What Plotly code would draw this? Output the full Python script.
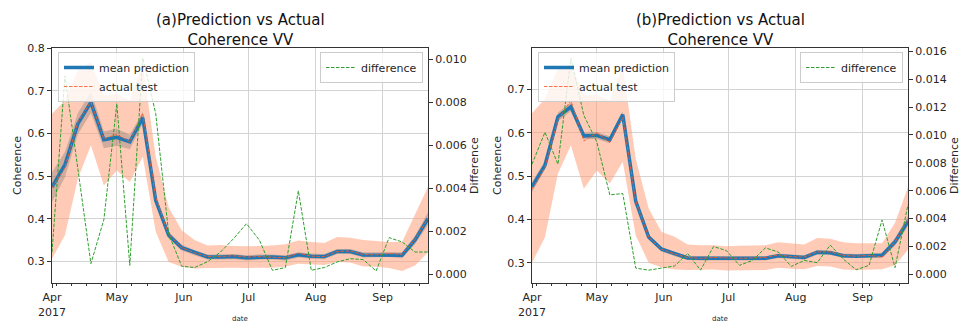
import pandas as pd
import plotly.graph_objects as go

W, H = 965, 323

dates = pd.date_range("2017-04-01", periods=30, freq="6D")

# ---- panel (a) ----
mean_a = [0.474, 0.527, 0.623, 0.673, 0.585, 0.591, 0.580, 0.637, 0.443, 0.361,
          0.332, 0.320, 0.310, 0.310, 0.311, 0.308, 0.310, 0.310, 0.308, 0.315,
          0.312, 0.311, 0.323, 0.323, 0.315, 0.315, 0.316, 0.314, 0.350, 0.400]
actual_a = [0.473, 0.520, 0.627, 0.674, 0.587, 0.598, 0.580, 0.647, 0.450, 0.363,
            0.332, 0.320, 0.311, 0.311, 0.313, 0.310, 0.311, 0.310, 0.308, 0.319,
            0.312, 0.311, 0.323, 0.324, 0.316, 0.315, 0.318, 0.316, 0.351, 0.401]
std_a = [0.035, 0.030, 0.025, 0.025, 0.020, 0.020, 0.017, 0.014, 0.010, 0.008,
         0.007, 0.006, 0.006, 0.006, 0.006, 0.006, 0.006, 0.006, 0.006, 0.006,
         0.006, 0.006, 0.006, 0.006, 0.006, 0.006, 0.006, 0.007, 0.010, 0.015]
upper_a = [0.646, 0.677, 0.748, 0.767, 0.689, 0.693, 0.677, 0.763, 0.545, 0.427,
           0.373, 0.350, 0.337, 0.338, 0.336, 0.335, 0.336, 0.337, 0.340, 0.349,
           0.345, 0.343, 0.357, 0.355, 0.350, 0.347, 0.345, 0.345, 0.410, 0.475]
lower_a = [0.306, 0.361, 0.494, 0.572, 0.478, 0.513, 0.486, 0.545, 0.369, 0.298,
           0.287, 0.283, 0.284, 0.285, 0.285, 0.284, 0.285, 0.285, 0.288, 0.294,
           0.292, 0.291, 0.298, 0.297, 0.288, 0.287, 0.284, 0.277, 0.290, 0.321]
diff_a = [0.00105, 0.00924, 0.00490, 0.00051, 0.00256, 0.00795, 0.00043, 0.01008,
          0.00749, 0.00190, 0.00039, 0.00033, 0.00060, 0.00105, 0.00167, 0.00237,
          0.00160, 0.00020, 0.00033, 0.00390, 0.00020, 0.00033, 0.00059, 0.00074,
          0.00070, 0.00017, 0.00172, 0.00152, 0.00105, 0.00105]

# ---- panel (b) ----
mean_b = [0.475, 0.525, 0.637, 0.660, 0.593, 0.594, 0.584, 0.642, 0.442, 0.359,
          0.331, 0.320, 0.311, 0.310, 0.310, 0.309, 0.310, 0.310, 0.310, 0.316,
          0.314, 0.312, 0.324, 0.323, 0.316, 0.315, 0.316, 0.317, 0.348, 0.396]
actual_b = [0.470, 0.520, 0.630, 0.675, 0.581, 0.600, 0.578, 0.636, 0.442, 0.359,
            0.331, 0.320, 0.312, 0.310, 0.312, 0.311, 0.310, 0.311, 0.312, 0.318,
            0.314, 0.313, 0.325, 0.325, 0.317, 0.315, 0.317, 0.313, 0.348, 0.401]
std_b = [0.012, 0.010, 0.010, 0.010, 0.008, 0.008, 0.008, 0.008, 0.007, 0.006,
         0.005, 0.005, 0.005, 0.005, 0.005, 0.005, 0.005, 0.005, 0.005, 0.005,
         0.005, 0.005, 0.005, 0.005, 0.005, 0.005, 0.005, 0.006, 0.009, 0.012]
upper_b = [0.645, 0.679, 0.749, 0.758, 0.687, 0.688, 0.675, 0.755, 0.540, 0.425,
           0.371, 0.360, 0.342, 0.340, 0.340, 0.338, 0.339, 0.339, 0.340, 0.347,
           0.344, 0.342, 0.357, 0.355, 0.347, 0.345, 0.345, 0.345, 0.392, 0.475]
lower_b = [0.300, 0.359, 0.506, 0.571, 0.471, 0.513, 0.483, 0.533, 0.363, 0.300,
           0.289, 0.284, 0.283, 0.283, 0.284, 0.282, 0.283, 0.283, 0.283, 0.288,
           0.286, 0.285, 0.292, 0.291, 0.284, 0.283, 0.284, 0.285, 0.294, 0.330]
diff_b = [0.0079, 0.0102, 0.0079, 0.0155, 0.0114, 0.0095, 0.0057, 0.0058, 0.00045,
          0.0003, 0.00045, 0.0006, 0.0015, 0.0003, 0.0020, 0.0017, 0.00065, 0.0010,
          0.0019, 0.0016, 0.00057, 0.0010, 0.00084, 0.0021, 0.0011, 0.00033, 0.00065,
          0.0039, 0.00048, 0.0050]

titles = ["(a)Prediction vs Actual<br>Coherence VV", "(b)Prediction vs Actual<br>Coherence VV"]
month_ticks = ["2017-04-01", "2017-05-01", "2017-06-01", "2017-07-01", "2017-08-01", "2017-09-01"]
month_text = ["Apr<br>2017", "May", "Jun", "Jul", "Aug", "Sep"]

FONT = "DejaVu Sans"
BLUE = "#1f77b4"
ORANGE = "#ff5a2a"
GREEN = "#2ca02c"
SALMON = "rgba(255,160,122,0.55)"
GREY = "rgba(110,110,110,0.33)"

fig = go.Figure()

px = lambda p: p / W
py = lambda p: 1 - p / H

panels = [
    dict(mean=mean_a, actual=actual_a, std=std_a, up=upper_a, lo=lower_a, diff=diff_a,
         x="x", y="y", y2="y2", l=52, r=428, leg="legend", leg2="legend2",
         yrange=[0.249, 0.8005], y2range=[-0.00039, 0.01054]),
    dict(mean=mean_b, actual=actual_b, std=std_b, up=upper_b, lo=lower_b, diff=diff_b,
         x="x2", y="y3", y2="y4", l=532, r=908, leg="legend3", leg2="legend4",
         yrange=[0.253, 0.796], y2range=[-0.00062, 0.01624]),
]

xd = list(dates)
for p in panels:
    fig.add_trace(go.Scatter(x=xd + xd[::-1], y=p["up"] + p["lo"][::-1], fill="toself",
                             fillcolor=SALMON, line=dict(width=0), mode="lines",
                             hoverinfo="skip", showlegend=False, xaxis=p["x"], yaxis=p["y"]))
    gu = [m + s for m, s in zip(p["mean"], p["std"])]
    gl = [m - s for m, s in zip(p["mean"], p["std"])]
    fig.add_trace(go.Scatter(x=xd + xd[::-1], y=gu + gl[::-1], fill="toself",
                             fillcolor=GREY, line=dict(width=0), mode="lines",
                             hoverinfo="skip", showlegend=False, xaxis=p["x"], yaxis=p["y"]))
    fig.add_trace(go.Scatter(x=xd, y=p["mean"], mode="lines", name="mean prediction",
                             line=dict(color=BLUE, width=3.5), legend=p["leg"],
                             xaxis=p["x"], yaxis=p["y"]))
    fig.add_trace(go.Scatter(x=xd, y=p["actual"], mode="lines", name="actual test",
                             line=dict(color=ORANGE, width=1, dash="3.5px,1.5px"),
                             opacity=0.85, legend=p["leg"], xaxis=p["x"], yaxis=p["y"]))
    fig.add_trace(go.Scatter(x=xd, y=p["diff"], mode="lines", name="difference",
                             line=dict(color=GREEN, width=1, dash="3.5px,1.5px"),
                             legend=p["leg2"], xaxis=p["x"], yaxis=p["y2"]))

tickfont = dict(family=FONT, size=11, color="#262626")
common_x = dict(type="date", range=["2017-04-01", "2017-09-22"], tickvals=month_ticks,
                ticktext=month_text, showgrid=True, gridcolor="#d3d3d3", gridwidth=1,
                showline=True, linecolor="#333", linewidth=1, mirror=True,
                ticks="outside", ticklen=4, tickcolor="#333", tickfont=tickfont,
                zeroline=False, automargin=False,
                minor=dict(ticks="outside", ticklen=2, tickcolor="#333",
                           tick0="2017-04-03", dtick=7 * 86400000, showgrid=False))
ydom = [py(283), py(48)]

layout = dict(width=W, height=H, margin=dict(l=0, r=0, t=0, b=0, pad=0, autoexpand=False),
              autosize=False, plot_bgcolor="white", paper_bgcolor="white",
              font=dict(family=FONT), showlegend=True)

for i, p in enumerate(panels):
    xname = "xaxis" if i == 0 else "xaxis2"
    yname = "yaxis" if i == 0 else "yaxis3"
    y2name = "yaxis2" if i == 0 else "yaxis4"
    layout[xname] = dict(common_x, domain=[px(p["l"]), px(p["r"])], anchor=p["y"])
    layout[yname] = dict(domain=ydom, range=p["yrange"], anchor=p["x"], dtick=0.1,
                         tickformat=".1f", showgrid=True, gridcolor="#d3d3d3", gridwidth=1,
                         showline=True, linecolor="#333", linewidth=1, ticks="outside",
                         ticklen=4, tickcolor="#333", tickfont=tickfont, zeroline=False,
                         automargin=False)
    layout[y2name] = dict(overlaying=p["y"], side="right", anchor=p["x"], range=p["y2range"],
                          dtick=0.002, tickformat=".3f", showgrid=False, showline=True,
                          linecolor="#333", linewidth=1, ticks="outside", ticklen=4,
                          tickcolor="#333", tickfont=tickfont, zeroline=False,
                          automargin=False)
    legstyle = dict(bgcolor="rgba(255,255,255,0.8)", bordercolor="#cccccc", borderwidth=1,
                    font=dict(family=FONT, size=11, color="#262626"), yanchor="top",
                    tracegroupgap=0, itemwidth=30)
    layout[p["leg"]] = dict(legstyle, x=px(p["l"] + 6), y=py(52), xanchor="left")
    layout[p["leg2"]] = dict(legstyle, x=px(p["r"] - 5), y=py(52), xanchor="right")

fig.update_layout(**layout)

annos = []
for i, p in enumerate(panels):
    cx = (p["l"] + p["r"]) / 2
    annos.append(dict(text=titles[i], x=px(cx), y=py(30), xref="paper", yref="paper",
                      showarrow=False, xanchor="center", yanchor="middle",
                      font=dict(family=FONT, size=15, color="#111")))
    annos.append(dict(text="Coherence", x=px(p["l"] - 35), y=py(166), xref="paper",
                      yref="paper", showarrow=False, textangle=-90, xanchor="center",
                      yanchor="middle", font=dict(family=FONT, size=11, color="#262626")))
    annos.append(dict(text="Difference", x=px(p["r"] + 46), y=py(166), xref="paper",
                      yref="paper", showarrow=False, textangle=-90, xanchor="center",
                      yanchor="middle", font=dict(family=FONT, size=11, color="#262626")))
    annos.append(dict(text="date", x=px(cx), y=py(319), xref="paper", yref="paper",
                      showarrow=False, xanchor="center", yanchor="middle",
                      font=dict(family=FONT, size=7, color="#262626")))
fig.update_layout(annotations=annos)

fig.write_html("out.html")
